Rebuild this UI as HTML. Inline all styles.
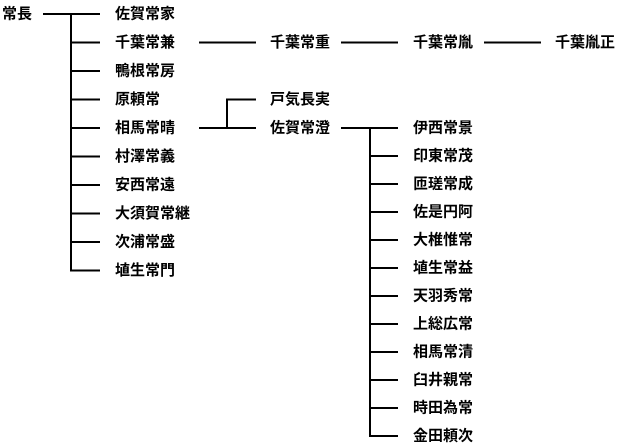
<!DOCTYPE html>
<html><head><meta charset="utf-8"><style>
html,body{margin:0;padding:0;background:#fff;}
svg text{font-family:"Liberation Sans","Noto Sans CJK JP",sans-serif;font-size:15px;font-weight:bold;fill:#000;dominant-baseline:central;}
</style></head><body>
<svg width="618" height="443" xmlns="http://www.w3.org/2000/svg">
<g stroke="#000" stroke-width="2" fill="none">
<line x1="43" y1="14" x2="100" y2="14"/>
<line x1="71" y1="14" x2="71" y2="271"/>
<line x1="71" y1="42.5" x2="100" y2="42.5"/>
<line x1="71" y1="71" x2="100" y2="71"/>
<line x1="71" y1="99.5" x2="100" y2="99.5"/>
<line x1="71" y1="128" x2="100" y2="128"/>
<line x1="71" y1="156.5" x2="100" y2="156.5"/>
<line x1="71" y1="185" x2="100" y2="185"/>
<line x1="71" y1="213.5" x2="100" y2="213.5"/>
<line x1="71" y1="242" x2="100" y2="242"/>
<line x1="70" y1="270.5" x2="100" y2="270.5"/>
<line x1="199" y1="42.5" x2="256" y2="42.5"/>
<line x1="341" y1="42.5" x2="398" y2="42.5"/>
<line x1="484" y1="42.5" x2="541" y2="42.5"/>
<line x1="199" y1="128" x2="256" y2="128"/>
<line x1="227" y1="99.5" x2="227" y2="128"/>
<line x1="226" y1="99.5" x2="256" y2="99.5"/>
<line x1="341" y1="128" x2="398" y2="128"/>
<line x1="370" y1="128" x2="370" y2="436"/>
<line x1="370" y1="156" x2="398" y2="156"/>
<line x1="370" y1="184" x2="398" y2="184"/>
<line x1="370" y1="212" x2="398" y2="212"/>
<line x1="370" y1="240" x2="398" y2="240"/>
<line x1="370" y1="268" x2="398" y2="268"/>
<line x1="370" y1="296" x2="398" y2="296"/>
<line x1="370" y1="324" x2="398" y2="324"/>
<line x1="370" y1="352" x2="398" y2="352"/>
<line x1="370" y1="380" x2="398" y2="380"/>
<line x1="370" y1="408" x2="398" y2="408"/>
<line x1="369" y1="436" x2="398" y2="436"/>
</g>
<text x="2" y="14">常長</text>
<text x="115" y="14">佐賀常家</text>
<text x="115" y="42.5">千葉常兼</text>
<text x="115" y="71">鴨根常房</text>
<text x="115" y="99.5">原頼常</text>
<text x="115" y="128">相馬常晴</text>
<text x="115" y="156.5">村澤常義</text>
<text x="115" y="185">安西常遠</text>
<text x="115" y="213.5">大須賀常継</text>
<text x="115" y="242">次浦常盛</text>
<text x="115" y="270.5">埴生常門</text>
<text x="270" y="42.5">千葉常重</text>
<text x="413" y="42.5">千葉常胤</text>
<text x="555" y="42.5">千葉胤正</text>
<text x="270" y="99.5">戸気長実</text>
<text x="270" y="128">佐賀常澄</text>
<text x="413" y="128">伊西常景</text>
<text x="413" y="156">印東常茂</text>
<text x="413" y="184">匝瑳常成</text>
<text x="413" y="212">佐是円阿</text>
<text x="413" y="240">大椎惟常</text>
<text x="413" y="268">埴生常益</text>
<text x="413" y="296">天羽秀常</text>
<text x="413" y="324">上総広常</text>
<text x="413" y="352">相馬常清</text>
<text x="413" y="380">臼井親常</text>
<text x="413" y="408">時田為常</text>
<text x="413" y="436">金田頼次</text>
</svg>
</body></html>
